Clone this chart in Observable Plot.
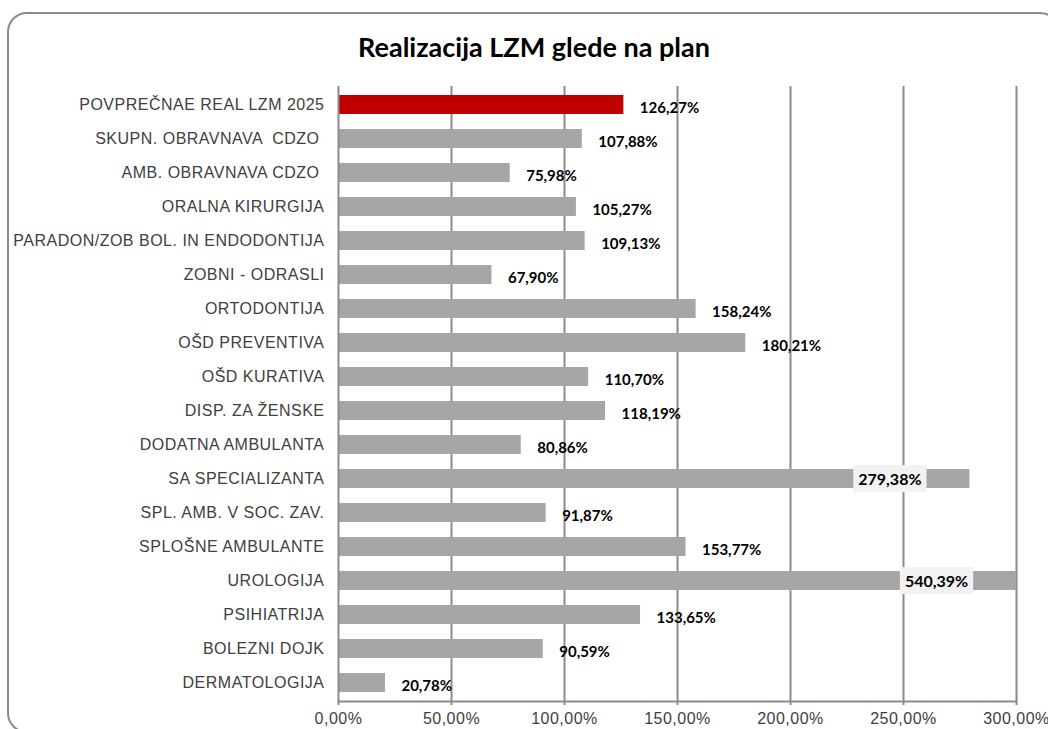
<!DOCTYPE html>
<html>
<head>
<meta charset="utf-8">
<script src="https://cdn.jsdelivr.net/npm/d3@7"></script>
<script src="https://cdn.jsdelivr.net/npm/@observablehq/plot@0.6"></script>
<style>
  html, body { margin: 0; padding: 0; background: #fff; overflow: hidden; }
  #wrap { position: relative; width: 1048px; height: 729px; }
  #frame { position: absolute; left: 7px; top: 12px; width: 1053px; height: 721px;
           border: 2px solid #8a8a8a; border-radius: 20px; box-sizing: border-box; pointer-events: none; }
  #title { font-family: Lato, "Open Sans", sans-serif; font-weight: bold; font-size: 27px;
           line-height: 30px; height: 30px; padding-top: 32px; padding-bottom: 8px;
           text-align: center; color: #000; padding-left: 20px; }
  svg text { white-space: pre; }
  svg g[aria-label="x-axis tick label"] text, svg g[aria-label="y-axis tick label"] text { letter-spacing: 0.5px; }
</style>
</head>
<body>
<div id="wrap">
  <div id="frame"></div>
  <div id="title">Realizacija LZM glede na plan</div>
  <div id="chart"></div>
</div>
<script>
const categories = [
  "POVPREČNAE REAL LZM 2025",
  "SKUPN. OBRAVNAVA  CDZO ",
  "AMB. OBRAVNAVA CDZO ",
  "ORALNA KIRURGIJA",
  "PARADON/ZOB BOL. IN ENDODONTIJA",
  "ZOBNI - ODRASLI",
  "ORTODONTIJA",
  "OŠD PREVENTIVA",
  "OŠD KURATIVA",
  "DISP. ZA ŽENSKE",
  "DODATNA AMBULANTA",
  "SA SPECIALIZANTA",
  "SPL. AMB. V SOC. ZAV.",
  "SPLOŠNE AMBULANTE",
  "UROLOGIJA",
  "PSIHIATRIJA",
  "BOLEZNI DOJK",
  "DERMATOLOGIJA"
];
const values = [126.27, 107.88, 75.98, 105.27, 109.13, 67.90, 158.24, 180.21, 110.70, 118.19, 80.86, 279.38, 91.87, 153.77, 540.39, 133.65, 90.59, 20.78];
const highlighted = ["POVPREČNAE REAL LZM 2025"];
const xTicks = [0, 50, 100, 150, 200, 250, 300];

const data = categories.map((c, i) => ({category: c, value: values[i], hl: highlighted.includes(c)}));
const fmt = v => v.toFixed(2).replace(".", ",") + "%";
const xMax = xTicks[xTicks.length - 1];
const inside = d => d.value > 250;

const chart = Plot.plot({
  width: 1048,
  height: 659,
  marginTop: 16,
  marginBottom: 28,
  marginLeft: 338,
  marginRight: 32,
  style: {fontFamily: "'Liberation Sans', Arial, sans-serif", fontSize: "16px", color: "#404040", background: "transparent", overflow: "visible"},
  x: {domain: [0, xMax], ticks: xTicks, tickFormat: fmt},
  y: {domain: categories, paddingInner: 0.44, paddingOuter: 0.22},
  marks: [
    Plot.ruleX(xTicks.filter(t => t > 0), {stroke: "#8c8c8c", strokeWidth: 2, strokeOpacity: 1}),
    Plot.barX(data, {x: "value", y: "category", fill: d => d.hl ? "#C00000" : "#A6A6A6", clip: true, inset: 0}),
    Plot.ruleX([0], {stroke: "#8c8c8c", strokeWidth: 2}),
    Plot.frame({anchor: "bottom", stroke: "#8c8c8c", strokeWidth: 2}),
    Plot.axisX({ticks: xTicks, tickFormat: fmt, tickSize: 4, tickPadding: 7, stroke: "#8c8c8c", strokeWidth: 2, fill: "#404040", fontSize: 16, label: null}),
    Plot.axisY({tickSize: 0, tickPadding: 14, fill: "#404040", fontSize: 16, label: null}),
    Plot.text(data.filter(d => !inside(d)), {
      x: "value", y: "category", text: d => fmt(d.value),
      textAnchor: "start", dx: 16, dy: 3,
      fontFamily: "Lato, 'Open Sans', sans-serif", fontWeight: "bold", fontSize: 15, fill: "#000"
    }),
    Plot.text(data.filter(inside), {
      x: d => Math.min(d.value, xMax), y: "category", text: d => fmt(d.value),
      textAnchor: "middle", dx: -80, dy: 1, className: "inlabel",
      fontFamily: "Lato, 'Open Sans', sans-serif", fontWeight: "bold", fontSize: 16, fill: "#000"
    })
  ]
});
document.getElementById("chart").appendChild(chart);

// background boxes behind the in-bar labels
chart.querySelectorAll("g.inlabel text").forEach(t => {
  const b = t.getBBox();
  const r = document.createElementNS("http://www.w3.org/2000/svg", "rect");
  r.setAttribute("x", b.x - 5);
  r.setAttribute("y", b.y - 4);
  r.setAttribute("width", b.width + 10);
  r.setAttribute("height", b.height + 8);
  r.setAttribute("fill", "#F2F2F2");
  const tr = t.getAttribute("transform");
  if (tr) r.setAttribute("transform", tr);
  t.parentNode.insertBefore(r, t);
});
</script>
</body>
</html>
